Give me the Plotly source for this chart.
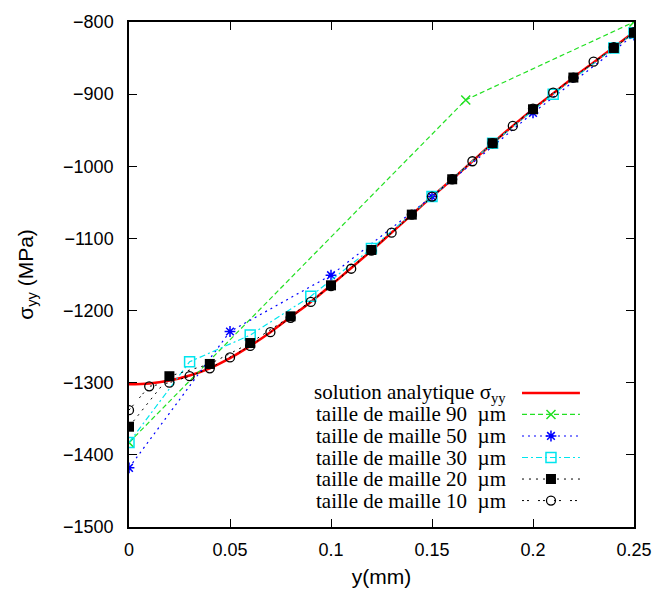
import plotly.graph_objects as go

# ---- data ----
x_ana = [0.0, 0.01, 0.02, 0.03, 0.04, 0.05, 0.06, 0.07, 0.08, 0.09, 0.10, 0.11, 0.12,
         0.13, 0.14, 0.15, 0.16, 0.17, 0.18, 0.19, 0.20, 0.21, 0.22, 0.23, 0.24, 0.25]
y_ana = [-1302, -1301, -1297, -1290, -1280, -1266, -1249, -1230, -1209, -1188, -1165, -1141, -1117,
         -1092, -1067, -1042, -1018, -993, -968, -944, -921, -899, -877, -856, -835, -814]

x_90 = [0.0, 0.1667, 0.25]
y_90 = [-1383, -908, -800]

x_50 = [0.0, 0.05, 0.10, 0.15, 0.20, 0.25]
y_50 = [-1418, -1229, -1151, -1042, -926, -818]

x_30 = [0.0, 0.03, 0.06, 0.09, 0.12, 0.15, 0.18, 0.21, 0.24, 0.25]
y_30 = [-1383, -1271, -1234, -1180, -1114, -1042, -968, -900, -836, -815]

x_20 = [0.0, 0.02, 0.04, 0.06, 0.08, 0.10, 0.12, 0.14, 0.16, 0.18, 0.20, 0.22, 0.24, 0.25]
y_20 = [-1361, -1291, -1274, -1245, -1208, -1165, -1116, -1067, -1018, -968, -921, -877, -836, -815]

x_10 = [0.0, 0.01, 0.02, 0.03, 0.04, 0.05, 0.06, 0.07, 0.08, 0.09, 0.10, 0.11, 0.12,
        0.13, 0.14, 0.15, 0.16, 0.17, 0.18, 0.19, 0.20, 0.21, 0.22, 0.23, 0.24, 0.25]
y_10 = [-1338, -1305, -1300, -1291, -1280, -1265, -1249, -1230, -1210, -1188, -1166, -1142, -1117,
        -1092, -1067, -1042, -1018, -993, -968, -944, -920, -898, -877, -855, -835, -814]

x_ticks = [0, 0.05, 0.1, 0.15, 0.2, 0.25]
x_tick_labels = ["0", "0.05", "0.1", "0.15", "0.2", "0.25"]
y_ticks = [-1500, -1400, -1300, -1200, -1100, -1000, -900, -800]

legend_labels = [
    "solution analytique σ<sub>yy</sub>",
    "taille de maille 90\u00a0\u00a0µm",
    "taille de maille 50\u00a0\u00a0µm",
    "taille de maille 30\u00a0\u00a0µm",
    "taille de maille 20\u00a0\u00a0µm",
    "taille de maille 10\u00a0\u00a0µm",
]

# ---- styles ----
series = [
    dict(x=x_ana, y=y_ana, line=dict(color="#ff0000", width=2.5, dash="solid", shape="spline"),
         marker=None),
    dict(x=x_90, y=y_90, line=dict(color="#22e022", width=1.2, dash="5px,3px"),
         marker=dict(symbol="x-thin-open", size=9, color="#22e022", line=dict(width=1.5, color="#22e022"))),
    dict(x=x_50, y=y_50, line=dict(color="#0000ff", width=1.2, dash="2px,4px"),
         marker=dict(symbol="asterisk-open", size=9, color="#0000ff", line=dict(width=1.5, color="#0000ff"))),
    dict(x=x_30, y=y_30, line=dict(color="#00e5ee", width=1.2, dash="6px,3px,2px,3px"),
         marker=dict(symbol="square-open", size=10, color="#00e5ee", line=dict(width=1.5, color="#00e5ee"))),
    dict(x=x_20, y=y_20, line=dict(color="#000000", width=1, dash="2px,5px"),
         marker=dict(symbol="square", size=10, color="#000000")),
    dict(x=x_10, y=y_10, line=dict(color="#000000", width=1, dash="2px,3px,2px,9px"),
         marker=dict(symbol="circle-open", size=9, color="#000000", line=dict(width=1.3, color="#000000"))),
]

fig = go.Figure()
for s in series:
    mode = "lines" if s["marker"] is None else "lines+markers"
    kw = dict(x=s["x"], y=s["y"], mode=mode, line=s["line"], showlegend=False, cliponaxis=True,
              hoverinfo="skip")
    if s["marker"] is not None:
        kw["marker"] = s["marker"]
    fig.add_trace(go.Scatter(**kw))

W, H = 664, 597
L, R, T, B = 129, 21, 12, 69
pw, ph = W - L - R, H - T - B
# legend sample box (pixels): x 529..588, rows centered 391..501
row_px = [391, 413, 435, 457, 479, 501]
lx0 = (529 - L) / pw
lx1 = (588 - L) / pw
ly_top = 1 - (391 - 11 - T) / ph
ly_bot = 1 - (501 + 11 - T) / ph
text_right = (515 - L) / pw

# ---- custom gnuplot-style legend (text right-aligned, sample on the right) ----
n = len(legend_labels)
for i, (s, lab) in enumerate(zip(series, legend_labels)):
    yy = n - i
    mode = "lines" if s["marker"] is None else "lines+markers"
    kw = dict(x=[0, 0.5, 1], y=[yy, yy, yy], mode=mode,
              line={k: v for k, v in s["line"].items() if k != "shape"},
              xaxis="x2", yaxis="y2", showlegend=False, hoverinfo="skip")
    if s["marker"] is not None:
        kw["marker"] = dict(s["marker"])
        kw["selectedpoints"] = [1]
        kw["selected"] = dict(marker=dict(opacity=1))
        kw["unselected"] = dict(marker=dict(opacity=0))
    fig.add_trace(go.Scatter(**kw))
    fig.add_annotation(x=text_right, y=1 - (row_px[i] - T) / ph, xref="paper", yref="paper",
                       text=lab, showarrow=False, xanchor="right", yanchor="middle",
                       font=dict(family="Liberation Serif", size=21, color="#000"))

fig.update_layout(
    width=W, height=H,
    margin=dict(l=L, r=R, t=T, b=B),
    paper_bgcolor="white", plot_bgcolor="white",
    font=dict(family="Liberation Sans, Arial", size=18, color="#000"),
    hovermode=False,
    xaxis=dict(range=[0, 0.25], tickvals=x_ticks, ticktext=x_tick_labels,
               ticks="inside", ticklen=8, tickwidth=1, tickcolor="#000",
               showline=True, linecolor="#000", linewidth=1.5, mirror="allticks",
               showgrid=False, zeroline=False, ticklabelstandoff=6,
               title=dict(text="y(mm)", font=dict(size=21), standoff=10)),
    yaxis=dict(range=[-1500, -800], tickvals=y_ticks,
               ticks="inside", ticklen=8, tickwidth=1, tickcolor="#000",
               showline=True, linecolor="#000", linewidth=1.5, mirror="allticks",
               showgrid=False, zeroline=False, ticklabelstandoff=10,
               title=dict(text="σ<sub>yy</sub> (MPa)", font=dict(size=21), standoff=24)),
    xaxis2=dict(domain=[lx0, lx1], range=[0, 1], visible=False, anchor="y2", fixedrange=True),
    yaxis2=dict(domain=[ly_bot, ly_top], range=[0.5, n + 0.5], visible=False, anchor="x2", fixedrange=True),
)

fig.write_html("out.html")
